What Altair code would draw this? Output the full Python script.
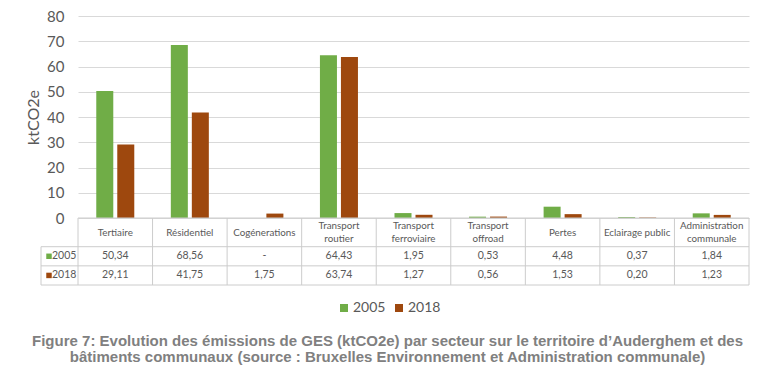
import altair as alt
import pandas as pd

categories = ["Tertiaire", "Résidentiel", "Cogénerations", "Transport routier",
              "Transport ferroviaire", "Transport offroad", "Pertes",
              "Eclairage public", "Administration communale"]
header_line1 = ["Tertiaire", "Résidentiel", "Cogénerations", "Transport",
                "Transport", "Transport", "Pertes", "Eclairage public", "Administration"]
header_line2 = ["", "", "", "routier", "ferroviaire", "offroad", "", "", "communale"]
years = ["2005", "2018"]
values_2005 = [50.34, 68.56, None, 64.43, 1.95, 0.53, 4.48, 0.37, 1.84]
values_2018 = [29.11, 41.75, 1.75, 63.74, 1.27, 0.56, 1.53, 0.20, 1.23]
y_ticks = [0, 10, 20, 30, 40, 50, 60, 70, 80]
colors = ["#70AD47", "#9E480E"]
caption_lines = [
    "Figure 7: Evolution des émissions de GES (ktCO2e) par secteur sur le territoire d’Auderghem et des",
    "bâtiments communaux (source : Bruxelles Environnement et Administration communale)",
]

TXT = "#595959"
GRID = "#d9d9d9"
LINE = "#cccccc"
FONT = "Lato"
W = 671

# ---------- bars ----------
bar_rows = []
for c, a, b in zip(categories, values_2005, values_2018):
    if a is not None:
        bar_rows.append({"cat": c, "year": "2005", "value": a})
    if b is not None:
        bar_rows.append({"cat": c, "year": "2018", "value": b})
bars_df = pd.DataFrame(bar_rows)

xscale = alt.Scale(domain=categories, paddingInner=0, paddingOuter=0)

bars = alt.Chart(bars_df).mark_bar().encode(
    x=alt.X("cat:N", sort=categories, scale=xscale, axis=None),
    xOffset=alt.XOffset("year:N", scale=alt.Scale(domain=years, paddingInner=0.19, paddingOuter=0.87)),
    y=alt.Y("value:Q", scale=alt.Scale(domain=[0, 80], nice=False),
            axis=alt.Axis(values=y_ticks, title="ktCO2e", titleFontSize=16, titleColor=TXT,
                          titleFont=FONT, titleFontWeight="normal", labelFontSize=15,
                          labelColor=TXT, labelFont=FONT, ticks=False, domain=False,
                          labelPadding=14, titlePadding=5, gridColor=GRID, grid=True)),
    color=alt.Color("year:N", scale=alt.Scale(domain=years, range=colors),
                    legend=alt.Legend(orient="none", legendX=259, legendY=285,
                                      direction="horizontal", title=None,
                                      symbolType="square", symbolSize=64,
                                      symbolStrokeWidth=0, labelFontSize=14,
                                      labelColor=TXT, labelFont=FONT,
                                      columnPadding=6, labelOffset=2)),
).properties(width=W, height=202)

# ---------- table ----------
def fmt(v):
    return "-" if v is None else f"{v:.2f}".replace(".", ",")

head_rows = []
val_rows = []
for c, h1, h2, a, b in zip(categories, header_line1, header_line2, values_2005, values_2018):
    if h2:
        head_rows.append({"cat": c, "row": 0.42, "label": h1})
        head_rows.append({"cat": c, "row": 1.1, "label": h2})
    else:
        head_rows.append({"cat": c, "row": 0.77, "label": h1})
    val_rows.append({"cat": c, "row": 2.0, "label": fmt(a)})
    val_rows.append({"cat": c, "row": 3.0, "label": fmt(b)})
head_df = pd.DataFrame(head_rows)
val_df = pd.DataFrame(val_rows)

yscale_t = alt.Scale(domain=[0, 3.5], reverse=True, nice=False, zero=False)
xt = alt.X("cat:N", sort=categories, scale=xscale, axis=None)

head_text = alt.Chart(head_df).mark_text(fontSize=9.8, color=TXT, font=FONT).encode(
    x=xt, y=alt.Y("row:Q", scale=yscale_t, axis=None), text="label:N")
val_text = alt.Chart(val_df).mark_text(fontSize=10.5, color=TXT, font=FONT).encode(
    x=xt, y=alt.Y("row:Q", scale=yscale_t, axis=None), text="label:N")

vlines = alt.Chart(pd.DataFrame({"cat": categories})).mark_rule(color=LINE).encode(
    x=alt.X("cat:N", sort=categories, scale=xscale, axis=None, bandPosition=0),
    y=alt.value(0), y2=alt.value("height"))
vlast = alt.Chart(pd.DataFrame({"cat": categories[-1:]})).mark_rule(color=LINE).encode(
    x=alt.X("cat:N", sort=categories, scale=xscale, axis=None, bandPosition=1),
    y=alt.value(0), y2=alt.value("height"))

hline_top = alt.Chart(pd.DataFrame({"r": [0.0]})).mark_rule(color=LINE).encode(
    y=alt.Y("r:Q", scale=yscale_t, axis=None), x=alt.value(0), x2=alt.value("width"))
hlines = alt.Chart(pd.DataFrame({"r": [1.5, 2.5, 3.5]})).mark_rule(color=LINE).encode(
    y=alt.Y("r:Q", scale=yscale_t, axis=None), x=alt.value(-37), x2=alt.value("width"))
vleft = alt.Chart(pd.DataFrame({"r": [1.5], "r2": [3.5]})).mark_rule(color=LINE).encode(
    y=alt.Y("r:Q", scale=yscale_t, axis=None), y2="r2:Q", x=alt.value(-37))

row_df = pd.DataFrame({"year": years, "row": [2.0, 3.0]})
row_sq = alt.Chart(row_df).mark_square(size=30, opacity=1).encode(
    x=alt.value(-29), y=alt.Y("row:Q", scale=yscale_t, axis=None),
    color=alt.Color("year:N", scale=alt.Scale(domain=years, range=colors), legend=None))
row_txt = alt.Chart(row_df).mark_text(fontSize=10.5, color=TXT, font=FONT, align="left").encode(
    x=alt.value(-26), y=alt.Y("row:Q", scale=yscale_t, axis=None), text="year:N")

table = alt.layer(vlines, vlast, hline_top, hlines, vleft, head_text, val_text,
                  row_sq, row_txt).properties(width=W, height=67)

chart = alt.vconcat(bars, table, spacing=0, bounds="flush").properties(
    padding={"left": 17, "top": 1, "right": 5, "bottom": 5},
    title=alt.TitleParams(text=caption_lines, orient="bottom", anchor="middle", fontSize=15,
                          font="Liberation Sans", fontWeight="bold", color="#808080",
                          offset=19, lineHeight=16),
).configure_view(strokeWidth=0).configure_scale(bandPaddingInner=0)

chart.save("out.html", embed_options={"renderer": "svg", "actions": False})
